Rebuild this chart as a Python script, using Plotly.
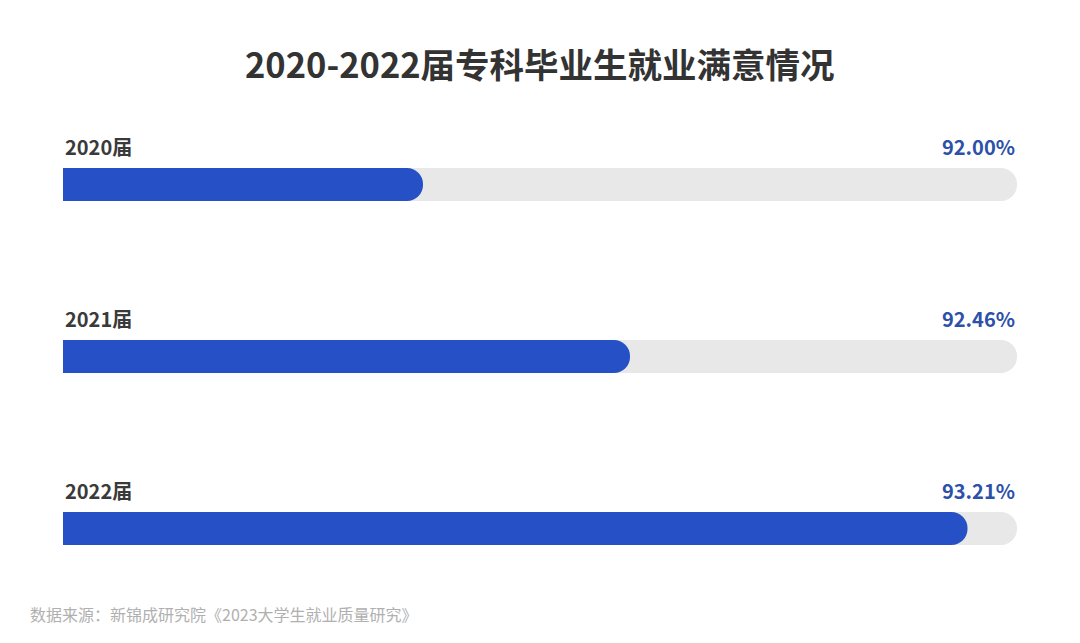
import plotly.graph_objects as go

# data
years = ["2020届", "2021届", "2022届"]
satisfaction = [92.00, 92.46, 93.21]

title_text = "2020-2022届专科毕业生就业满意情况"
source_text = "数据来源：新锦成研究院《2023大学生就业质量研究》"

x_min, x_max = 91.2, 93.32
pos = list(range(len(years)))
W, H = 1080, 643
ml, mr, mt, mb = 63, 63, 100, 43
pw, ph = W - ml - mr, H - mt - mb

fig = go.Figure()

# gray track behind each bar (start left of the axis so the left end gets clipped square)
fig.add_trace(go.Bar(
    y=pos, x=[x_max - x_min + 1] * len(years), base=x_min - 1,
    orientation="h", width=0.192,
    marker=dict(color="#e8e8e8", cornerradius=16, line=dict(width=0)),
    hoverinfo="skip", showlegend=False))

# blue value bars
fig.add_trace(go.Bar(
    y=pos, x=[v - x_min + 1 for v in satisfaction], base=x_min - 1,
    orientation="h", width=0.192,
    marker=dict(color="#2651c6", cornerradius=16, line=dict(width=0)),
    customdata=satisfaction, hovertemplate="%{customdata:.2f}%<extra></extra>",
    showlegend=False))

# year labels on the left, values on the right
for i, (yr, v) in enumerate(zip(years, satisfaction)):
    fig.add_annotation(x=0, xref="paper", y=i - 0.218, yref="y",
                       text=f"<b>{yr}</b>", showarrow=False, xanchor="left", yanchor="middle",
                       font=dict(size=20, color="#3a3a3a", family="Noto Sans CJK SC"))
    fig.add_annotation(x=1, xref="paper", y=i - 0.218, yref="y",
                       text=f"<b>{v:.2f}%</b>", showarrow=False, xanchor="right", yanchor="middle",
                       font=dict(size=20, color="#2d50a8", family="Noto Sans CJK SC"))

# title
fig.add_annotation(x=0.5, xref="paper", y=(H - mb - 63) / ph, yref="paper",
                   text=f"<b>{title_text}</b>", showarrow=False,
                   xanchor="center", yanchor="middle",
                   font=dict(size=34.5, color="#333333", family="Noto Sans CJK SC"))

# footer source note
fig.add_annotation(x=(28 - ml) / pw, xref="paper", y=(H - mb - 614) / ph, yref="paper",
                   text=source_text, showarrow=False, xanchor="left", yanchor="middle",
                   font=dict(size=16, color="#b0b0b0", family="Noto Sans CJK SC"))

fig.update_layout(
    width=W, height=H,
    margin=dict(l=ml, r=mr, t=mt, b=mb),
    barmode="overlay",
    plot_bgcolor="white", paper_bgcolor="white",
    xaxis=dict(range=[x_min, x_max], visible=False, fixedrange=True),
    yaxis=dict(range=[2.416, -0.491], visible=False, fixedrange=True),
)

fig.write_html("out.html", config={"displayModeBar": False},
               post_script="document.body.style.margin='0';")
